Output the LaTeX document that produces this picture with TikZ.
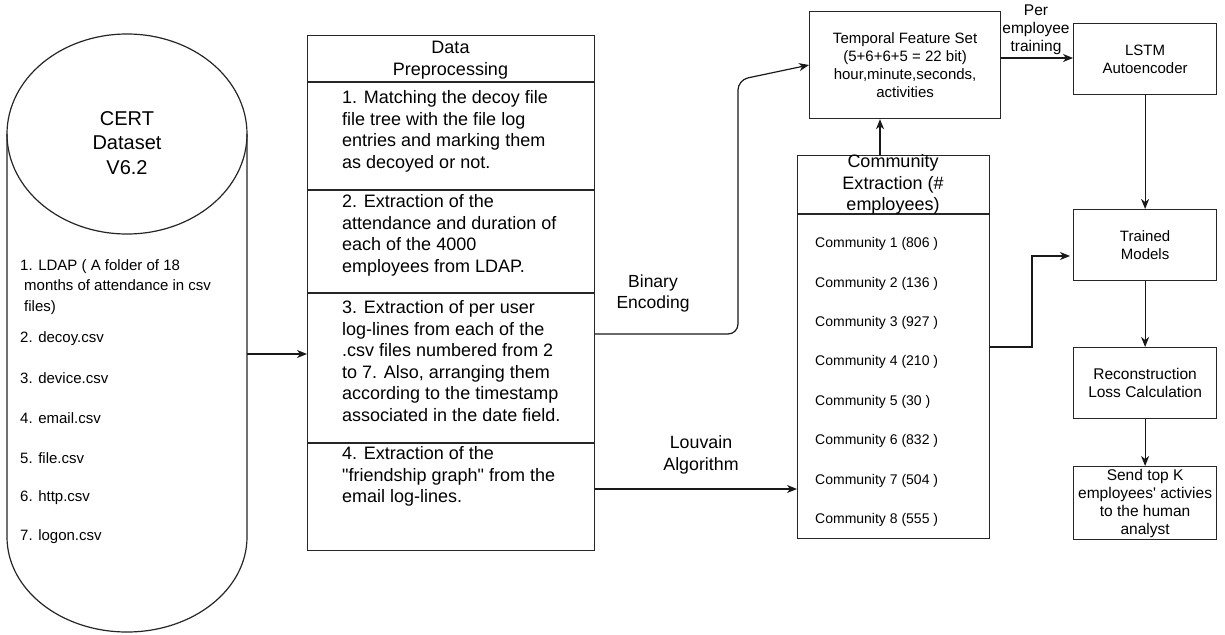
\documentclass[tikz,border=0pt]{standalone}
\usepackage{fontspec}
\setmainfont{Liberation Sans}
\usetikzlibrary{arrows.meta}
\newcommand\fsz[2]{\fontsize{#1}{#2}\selectfont}
\newcommand\sqt{\XeTeXglyph\XeTeXcharglyph"0022\relax}
\newcommand\sap{\XeTeXglyph\XeTeXcharglyph"0027\relax}
\begin{document}
\begin{tikzpicture}[x=1pt,y=-1pt,
  line/.style={draw=black!85, line width=1.2pt},
  box/.style={line, rectangle, inner sep=0pt, align=center},
  arr/.style={draw=black!90, line width=1.2pt, -{Stealth[length=10pt,width=8pt,inset=3pt]}},
  lbl/.style={inner sep=0pt, align=center, text=black},
  ltext/.style={inner sep=0pt, align=left, anchor=west, text=black},
]
\fill[white] (0,0) rectangle (1225,634);
\useasboundingbox (0,0) rectangle (1225,634);

% cylinder
\node[inner sep=0pt, minimum width=240pt, minimum height=598pt] (cert) at (127,333) {};
\draw[line] (127,134) ellipse [x radius=120, y radius=100];
\draw[line] (7,134) -- (7,537) arc[start angle=180, end angle=0, x radius=120, y radius=95] -- (247,134);
\node[lbl, font=\fsz{20}{24.5}] (certtitle) at (127,143) {CERT\\Dataset\\V6.2};
\node[ltext, font=\fsz{15}{20.5}] (ldap) at (20,287) {1. LDAP ( A folder of 18\\\hspace*{4pt}months of attendance in csv\\\hspace*{4pt}files)};
\foreach \t [count=\i] in {2. decoy.csv, 3. device.csv, 4. email.csv, 5. file.csv, 6. http.csv, 7. logon.csv}
  \node[ltext, font=\fsz{15}{18}] (item\i) at (20,{339+39.6*(\i-1)}) {\t};

% preprocessing
\node[box, minimum width=287pt, minimum height=515pt, anchor=north west] (pre) at (307,35) {};
\foreach \yy in {82,190,293,443}
  \draw[line] (pre.west |- 0,\yy) -- (pre.east |- 0,\yy);
\node[lbl, font=\fsz{18}{22}] (prehead) at (450.5,60) {Data\\Preprocessing};
\node[ltext, font=\fsz{18}{21.6}] (row1) at (342,131.5) {1. Matching the decoy file\\file tree with the file log\\entries and marking them\\as decoyed or not.};
\node[ltext, font=\fsz{18}{21.6}] (row2) at (342,235.5) {2. Extraction of the\\attendance and duration of\\each of the 4000\\employees from LDAP.};
\node[ltext, font=\fsz{18}{21.6}] (row3) at (342,361) {3. Extraction of per user\\log-lines from each of the\\.csv files numbered from 2\\to 7. Also, arranging them\\according to the timestamp\\associated in the date field.};
\node[ltext, font=\fsz{18}{21.6}] (row4) at (342,476.5) {4. Extraction of the\\\sqt friendship graph\sqt{} from the\\email log-lines.};

% temporal feature set
\node[box, minimum width=191pt, minimum height=107pt, anchor=north west, font=\fsz{15}{18}] (temporal) at (809,11) {Temporal Feature Set\\(5+6+6+5 = 22 bit)\\hour,minute,seconds,\\activities};

% community extraction
\node[box, minimum width=192pt, minimum height=383pt, anchor=north west] (comm) at (797,155) {};
\draw[line] (comm.west |- 0,214) -- (comm.east |- 0,214);
\node[lbl, font=\fsz{18}{21.5}] (commhead) at (893,184.5) {Community\\Extraction (\#\\employees)};
\foreach \n/\v [count=\i] in {1/806,2/136,3/927,4/210,5/30,6/832,7/504,8/555}
  \node[ltext, font=\fsz{14}{16}] (c\i) at (815,{244+39.4*(\i-1)}) {Community \n{} (\v{} )};

% right column
\node[box, minimum width=143pt, minimum height=71pt, anchor=north west, font=\fsz{15}{17.7}] (lstm) at (1073,23) {LSTM\\Autoencoder};
\node[box, minimum width=143pt, minimum height=71pt, anchor=north west, font=\fsz{15}{18}] (trained) at (1073,209) {Trained\\Models};
\node[box, minimum width=143pt, minimum height=71pt, anchor=north west, font=\fsz{15.5}{18.3}] (recon) at (1073,347) {Reconstruction\\Loss Calculation};
\node[box, minimum width=143pt, minimum height=73pt, anchor=north west, font=\fsz{15.5}{18}] (send) at (1073,466) {Send top K\\employees\sap{} activies\\to the human\\analyst};

% labels
\node[lbl, font=\fsz{17.5}{21}] (binlbl) at (653,293.5) {Binary\\Encoding};
\node[lbl, font=\fsz{17.8}{22}] (louvlbl) at (701,455) {Louvain\\Algorithm};
\node[lbl, font=\fsz{15.5}{18}] (perlbl) at (1036,30) {Per\\employee\\training};

% connectors
\draw[arr] (cert.east |- 0,354) -- (pre.west |- 0,354);
\draw[arr, rounded corners=10pt] (pre.east |- 0,334) -| (738,80) -- (temporal.west |- 0,65);
\draw[arr] (comm.north -| 880,0) -- (temporal.south -| 880,0);
\draw[arr] (pre.east |- 0,489) -- (comm.west |- 0,489);
\draw[arr] (temporal.east |- 0,58) -- (lstm.west |- 0,58);
\draw[arr] (lstm.south) -- (trained.north);
\draw[arr, shorten >=3pt] (comm.east |- 0,347) -| (1032,256) -- (trained.west |- 0,256);
\draw[arr] (trained.south) -- (recon.north);
\draw[arr] (recon.south) -- (send.north);
\end{tikzpicture}
\end{document}
